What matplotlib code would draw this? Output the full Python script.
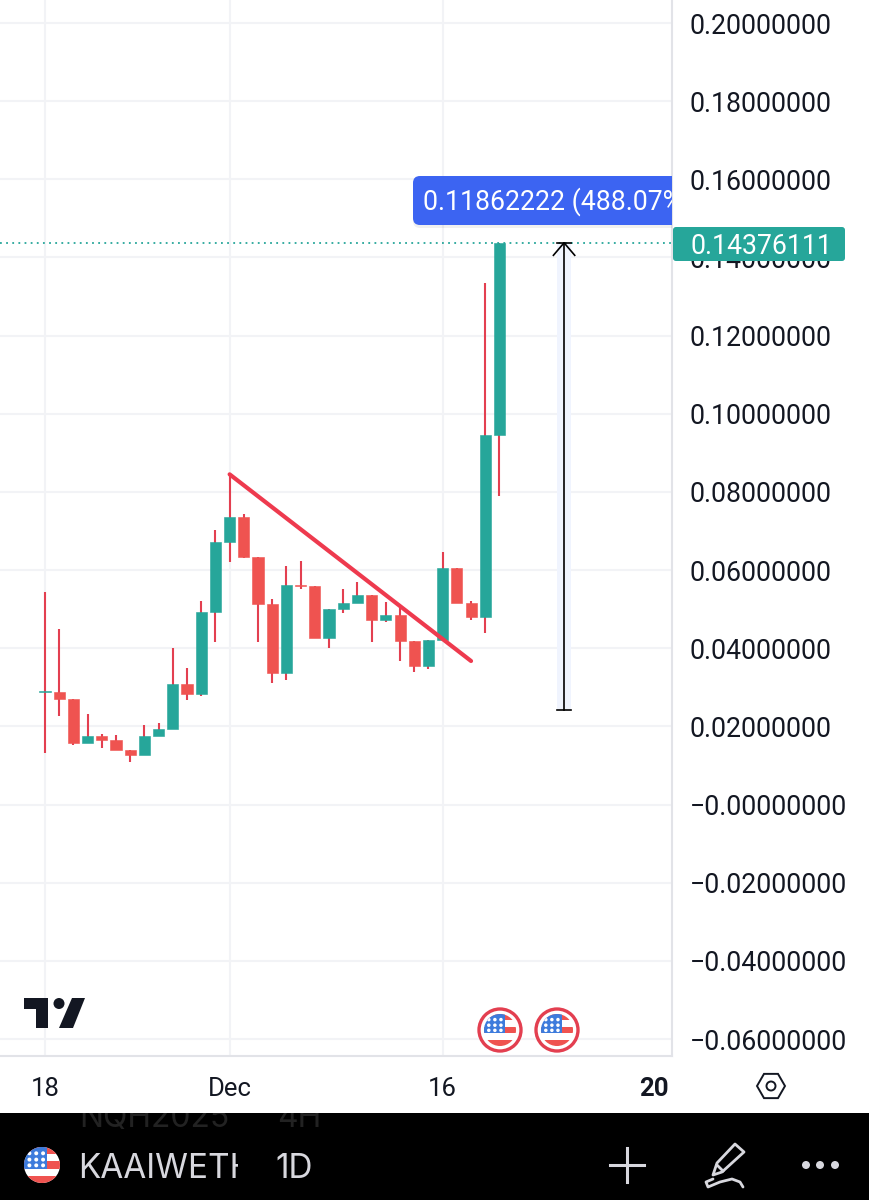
#!/usr/bin/env python3
import matplotlib
matplotlib.use("Agg")
import matplotlib.pyplot as plt
from matplotlib.patches import Rectangle, Circle, Polygon, FancyBboxPatch, RegularPolygon

plt.rcParams['font.family'] = ['Roboto', 'DejaVu Sans']

# velas diarias KAAI/WETH
opens = [0.0287, 0.0288, 0.02709, 0.01583, 0.01754, 0.01644, 0.01388, 0.0126, 0.01754, 0.01926, 0.03093,
         0.02837, 0.04935, 0.06719, 0.07359, 0.06343, 0.05125, 0.03367, 0.05626, 0.05593, 0.0427,
         0.05012, 0.05158, 0.0537, 0.04715, 0.04851, 0.04193, 0.03546, 0.04211, 0.06061, 0.05158,
         0.04807, 0.09457]
closes = [0.0291, 0.02709, 0.01583, 0.01754, 0.01644, 0.01388, 0.0126, 0.01754, 0.01926, 0.03093, 0.02837,
          0.04935, 0.06719, 0.07359, 0.06343, 0.05125, 0.03374, 0.05626, 0.05593, 0.0427, 0.05012,
          0.05165, 0.0537, 0.04715, 0.04851, 0.04193, 0.03546, 0.04211, 0.06061, 0.05158, 0.04807,
          0.09457, 0.14376]
highs = [0.05447, 0.04485, 0.02709, 0.0231, 0.01798, 0.0178, 0.01388, 0.02036, 0.02079, 0.03999, 0.03487,
         0.05209, 0.07018, 0.08451, 0.07428, 0.06343, 0.0526, 0.06097, 0.06233, 0.05593, 0.05012,
         0.05524, 0.05687, 0.0537, 0.05183, 0.05081, 0.04193, 0.04211, 0.06463, 0.06061, 0.05209,
         0.13347, 0.14376]
lows = [0.01327, 0.02259, 0.01524, 0.01583, 0.01455, 0.01388, 0.01089, 0.0126, 0.01754, 0.01926, 0.02676,
        0.02786, 0.0416, 0.06215, 0.06317, 0.0416, 0.03103, 0.03187, 0.05516, 0.0427, 0.03999,
        0.0491, 0.05158, 0.04168, 0.04679, 0.03674, 0.034, 0.03461, 0.04211, 0.05158, 0.04723,
        0.04398, 0.07896]

price_ticks = [0.20, 0.18, 0.16, 0.14, 0.12, 0.10, 0.08, 0.06, 0.04, 0.02, 0.0, -0.02, -0.04, -0.06]
price_labels = ['0.20000000', '0.18000000', '0.16000000', '0.14000000', '0.12000000', '0.10000000',
                '0.08000000', '0.06000000', '0.04000000', '0.02000000', '\u22120.00000000',
                '\u22120.02000000', '\u22120.04000000', '\u22120.06000000']
date_ticks = [0, 13, 28, 42.9]
date_labels = ['18', 'Dec', '16', '20']

last_price = 0.14376
trend_x = [13, 30]
trend_y = [0.08451, 0.03674]
measure_x = 36.55
measure_low = 0.0242
measure_high = 0.14376

GREEN = '#26a69a'
RED = '#ef5350'
WICK = '#e33f50'
GRID = '#f2f3f6'
BORDER = '#e2e3e8'
LIGHT = '#d8d8de'

W, H = 869, 1200
fig = plt.figure(figsize=(W / 100, H / 100), dpi=100)

# panel principal
ax = fig.add_axes([0, (H - 1056) / H, 672 / W, 1056 / H])
ax.set_xlim(-3.169, 44.15)
ax.set_ylim(-0.06434, 0.20589)
ax.set_yticks(price_ticks, price_labels)
ax.set_xticks(date_ticks, date_labels)
ax.yaxis.tick_right()
ax.tick_params(axis='y', length=0, pad=12.5, labelsize=19.2, labelcolor='#131722')
ax.tick_params(axis='x', length=0, pad=15, labelsize=18.5, labelcolor='#131722')
for lab in ax.get_yticklabels():
    lab.set_va('center_baseline')
ax.get_xticklabels()[-1].set_fontweight('bold')
ax.grid(True, color=GRID, lw=1.5)
ax.set_axisbelow(True)
ax.get_xgridlines()[-1].set_visible(False)
for s in ['top', 'left']:
    ax.spines[s].set_visible(False)
for s in ['right', 'bottom']:
    ax.spines[s].set_color(BORDER)
    ax.spines[s].set_linewidth(1.5)

# banda de medicion
ax.add_patch(Rectangle((measure_x - 0.5, measure_low), 1.0, measure_high - measure_low,
                       color='#f0f4fe', lw=0, zorder=1))

# velas
for i in range(len(opens)):
    color = GREEN if closes[i] >= opens[i] else RED
    ax.vlines(i, lows[i], highs[i], color=WICK, lw=1.5, zorder=2)
    ax.bar(i, abs(closes[i] - opens[i]), bottom=min(opens[i], closes[i]), width=0.78,
           color=color, edgecolor=color, lw=0.4, zorder=3)

ax.axhline(last_price, color=GREEN, lw=1.3, ls=(0, (1, 2.4)), zorder=2)

# linea de tendencia
ax.plot(trend_x, trend_y, color='#ee3a4e', lw=3, solid_capstyle='round', zorder=4)

# flecha de medicion
ax.plot([measure_x, measure_x], [measure_low, measure_high], color='black', lw=1.2, zorder=5)
ax.plot([measure_x - 0.5, measure_x + 0.5], [measure_low, measure_low], color='black', lw=1.2, zorder=5)
ax.plot([measure_x - 0.5, measure_x + 0.5], [measure_high, measure_high], color='black', lw=1.2, zorder=5)
ax.plot([measure_x - 0.75, measure_x, measure_x + 0.75],
        [measure_high - 0.0032, measure_high, measure_high - 0.0032], color='black', lw=1.2, zorder=5)

# capa de interfaz en pixeles
ui = fig.add_axes([0, 0, 1, 1], facecolor='none')
ui.set_xlim(0, W)
ui.set_ylim(H, 0)
ui.axis('off')


def flag(cx, cy, r):
    clip = Circle((cx, cy), r, transform=ui.transData)
    parts = [Rectangle((cx - r, cy - r), 2 * r, 2 * r, color='white', lw=0)]
    for k in [0, 2, 4]:
        parts.append(Rectangle((cx - r, cy - r + k * 0.4 * r), 2 * r, 0.4 * r, color=RED, lw=0))
    parts.append(Rectangle((cx - r, cy - r), 1.3 * r, 1.2 * r, color='#3d7bdc', lw=0))
    for fy in [-0.65, -0.3, 0.02]:
        for fx in [-0.7, -0.32, 0.06]:
            parts.append(Circle((cx + fx * r, cy + fy * r), r * 0.11, color='white', lw=0))
    for p in parts:
        ui.add_patch(p)
        p.set_clip_path(clip)


def clipped_text(x, y, s, box, **kw):
    t = ui.text(x, y, s, va='baseline', ha='left', clip_on=True, **kw)
    t.set_clip_path(Rectangle(box[:2], box[2], box[3], transform=ui.transData))
    return t


# etiqueta de precio
ui.add_patch(FancyBboxPatch((673, 227), 172, 34, boxstyle='round,pad=0,rounding_size=3', fc=GREEN, ec='none'))
ui.text(690, 244, '0.14376111', color='white', fontsize=19.2, va='center_baseline', ha='left')

# etiqueta de la medicion
chart_box = (0, 0, 672, 1056)
shadow = FancyBboxPatch((413, 178), 280, 50, boxstyle='round,pad=0,rounding_size=7', fc='#000000', ec='none', alpha=0.06)
ui.add_patch(shadow)
shadow.set_clip_path(Rectangle((0, 0), 672, 1056, transform=ui.transData))
tag = FancyBboxPatch((413, 176), 280, 49, boxstyle='round,pad=0,rounding_size=7', fc='#3c64f2', ec='none')
ui.add_patch(tag)
tag.set_clip_path(Rectangle((0, 0), 672, 1056, transform=ui.transData))
clipped_text(423, 210, '0.11862222 (488.07%)', chart_box, color='white', fontsize=19.2)

# logo
ui.add_patch(Polygon([(24, 998), (48, 998), (48, 1028), (36, 1028), (36, 1009), (24, 1009)], color='#131722', lw=0))
ui.add_patch(Circle((59, 1003.5), 5.5, color='#131722', lw=0))
ui.add_patch(Polygon([(72, 998), (85, 998), (73, 1028), (59, 1028)], color='#131722', lw=0))

# eventos
for cx in [500, 557]:
    ui.add_patch(Circle((cx, 1030), 21, fc='white', ec='#e33f50', lw=2.4))
    flag(cx, 1030, 16)

# icono de ajustes
ui.add_patch(RegularPolygon((771, 1086), 6, radius=14, orientation=0.5236, fc='none', ec='#131722', lw=1.4))
ui.add_patch(Circle((771, 1086), 4.5, fc='none', ec='#131722', lw=1.4))

# barra inferior
ui.add_patch(Rectangle((0, 1113), W, 87, color='black', lw=0))
bar_box = (0, 1113, W, 87)
clipped_text(79, 1127, 'NQH2025', bar_box, color='#222222', fontsize=23, family='Inter')
clipped_text(277, 1127, '4H', bar_box, color='#222222', fontsize=23, family='Inter')
flag(42, 1165, 18)
clipped_text(78, 1178, 'KAAIWETH', (0, 1113, 238, 87), color=LIGHT, fontsize=24, family='Inter')
ui.text(275, 1178, '1D', color=LIGHT, fontsize=24, va='baseline', ha='left', family='Inter')

# iconos de la barra
ui.plot([610, 644], [1165, 1165], color=LIGHT, lw=2.2)
ui.plot([627, 627], [1148, 1182], color=LIGHT, lw=2.2)
ui.add_patch(Polygon([(735, 1144), (744, 1152), (722, 1172), (713, 1175), (717, 1163)],
                     fc='none', ec=LIGHT, lw=2, joinstyle='round'))
ui.plot([717, 723], [1165, 1171], color=LIGHT, lw=2)
ui.plot([713, 706, 708, 720, 732, 740, 743],
        [1179, 1182, 1187, 1182, 1179, 1182, 1187], color=LIGHT, lw=2, solid_joinstyle='round', solid_capstyle='round')
for x in [806, 820, 835]:
    ui.add_patch(Circle((x, 1165), 4, color=LIGHT, lw=0))

fig.savefig('out.png', dpi=100, facecolor='white')
